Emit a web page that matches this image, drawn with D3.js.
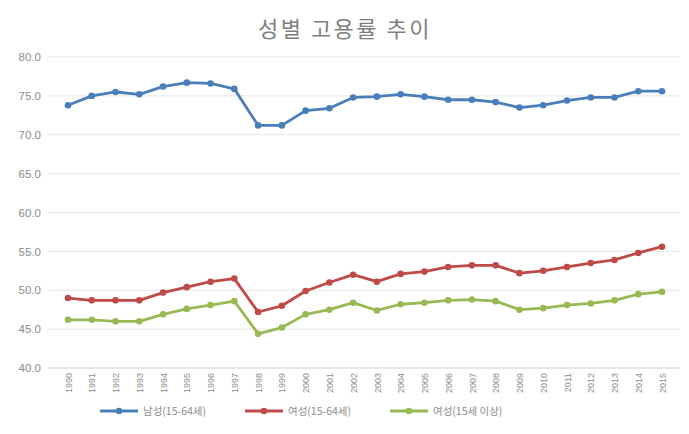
<!DOCTYPE html>
<html>
<head>
<meta charset="utf-8">
<script src="https://cdn.jsdelivr.net/npm/d3@7/dist/d3.min.js"></script>
<style>
  html, body { margin: 0; padding: 0; background: #fff; }
  svg { display: block; font-family: "Noto Sans CJK KR", "Noto Sans", sans-serif; }
</style>
</head>
<body>
<svg id="chart" width="689" height="434"></svg>
<script>
// Employment rate by sex, 1990-2015 (%)
const years = d3.range(1990, 2016).map(String);
const menRate = [73.8, 75.0, 75.5, 75.2, 76.2, 76.7, 76.6, 75.9, 71.2, 71.2, 73.1, 73.4, 74.8,
                 74.9, 75.2, 74.9, 74.5, 74.5, 74.2, 73.5, 73.8, 74.4, 74.8, 74.8, 75.6, 75.6];
const womenRate = [49.0, 48.7, 48.7, 48.7, 49.7, 50.4, 51.1, 51.5, 47.2, 48.0, 49.9, 51.0, 52.0,
                   51.1, 52.1, 52.4, 53.0, 53.2, 53.2, 52.2, 52.5, 53.0, 53.5, 53.9, 54.8, 55.6];
const womenAllRate = [46.2, 46.2, 46.0, 46.0, 46.9, 47.6, 48.1, 48.6, 44.4, 45.2, 46.9, 47.5, 48.4,
                      47.4, 48.2, 48.4, 48.7, 48.8, 48.6, 47.5, 47.7, 48.1, 48.3, 48.7, 49.5, 49.8];
const yTicks = [40, 45, 50, 55, 60, 65, 70, 75, 80];
const seriesNames = ["남성(15-64세)", "여성(15-64세)", "여성(15세 이상)"];
const seriesColors = ["#4a7ebb", "#be4b48", "#98b954"];
const title = "성별 고용률 추이";

const series = [menRate, womenRate, womenAllRate].map((vals, i) => ({
  name: seriesNames[i], color: seriesColors[i], values: vals
}));

const svg = d3.select("#chart");
const plot = { left: 48, right: 680, top: 57, bottom: 368 };

const x = d3.scalePoint().domain(years).range([68, 662]);
const y = d3.scaleLinear().domain([40, 80]).range([plot.bottom, plot.top]);

// title
svg.append("text")
  .attr("x", 345).attr("y", 37)
  .attr("text-anchor", "middle")
  .attr("font-size", 22)
  .attr("letter-spacing", 2.5)
  .attr("fill", "#7f7f7f")
  .text(title);

// horizontal gridlines
svg.append("g").selectAll("line").data(yTicks).join("line")
  .attr("x1", plot.left).attr("x2", plot.right)
  .attr("y1", d => y(d)).attr("y2", d => y(d))
  .attr("stroke", d => d === 40 ? "#d0d0d0" : "#e6e6e6")
  .attr("stroke-width", 1);

// y axis labels
const yAxis = d3.axisLeft(y).tickValues(yTicks).tickFormat(d3.format(".1f")).tickSize(0).tickPadding(0);
svg.append("g")
  .attr("transform", `translate(41,0)`)
  .call(yAxis)
  .call(g => g.select(".domain").remove())
  .call(g => g.selectAll("text").attr("fill", "#8c8c8c").attr("font-size", 11.5)
    .attr("font-family", "'Liberation Sans', Arial, sans-serif"));

// x axis labels (rotated)
const xAxis = d3.axisBottom(x).tickSize(0).tickPadding(0);
svg.append("g")
  .attr("transform", `translate(0,${plot.bottom})`)
  .call(xAxis)
  .call(g => g.select(".domain").remove())
  .call(g => g.selectAll("text")
    .attr("transform", "rotate(-90)")
    .attr("text-anchor", "end")
    .attr("x", -5).attr("y", 0).attr("dy", "0.35em")
    .attr("fill", "#8c8c8c").attr("font-size", 9)
    .attr("font-family", "'Liberation Sans', Arial, sans-serif"));

// lines and markers
const line = d3.line().x((d, i) => x(years[i])).y(d => y(d));
const gSeries = svg.append("g").selectAll("g").data(series).join("g");
gSeries.append("path")
  .attr("d", d => line(d.values))
  .attr("fill", "none")
  .attr("stroke", d => d.color)
  .attr("stroke-width", 2.8)
  .attr("stroke-linejoin", "round");
gSeries.each(function(s) {
  d3.select(this).selectAll("circle").data(s.values).join("circle")
    .attr("cx", (d, i) => x(years[i]))
    .attr("cy", d => y(d))
    .attr("r", 3.3)
    .attr("fill", s.color);
});

// legend
const legendX = [100, 245, 390];
const legend = svg.append("g").selectAll("g").data(series).join("g")
  .attr("transform", (d, i) => `translate(${legendX[i]},411)`);
legend.append("line")
  .attr("x1", 0).attr("x2", 38).attr("y1", 0).attr("y2", 0)
  .attr("stroke", d => d.color).attr("stroke-width", 2.8);
legend.append("circle").attr("cx", 19).attr("cy", 0).attr("r", 3.3).attr("fill", d => d.color);
legend.append("text")
  .attr("x", 43).attr("y", 0).attr("dy", "0.35em")
  .attr("font-size", 10.5)
  .attr("fill", "#8c8c8c")
  .text(d => d.name);
</script>
</body>
</html>
